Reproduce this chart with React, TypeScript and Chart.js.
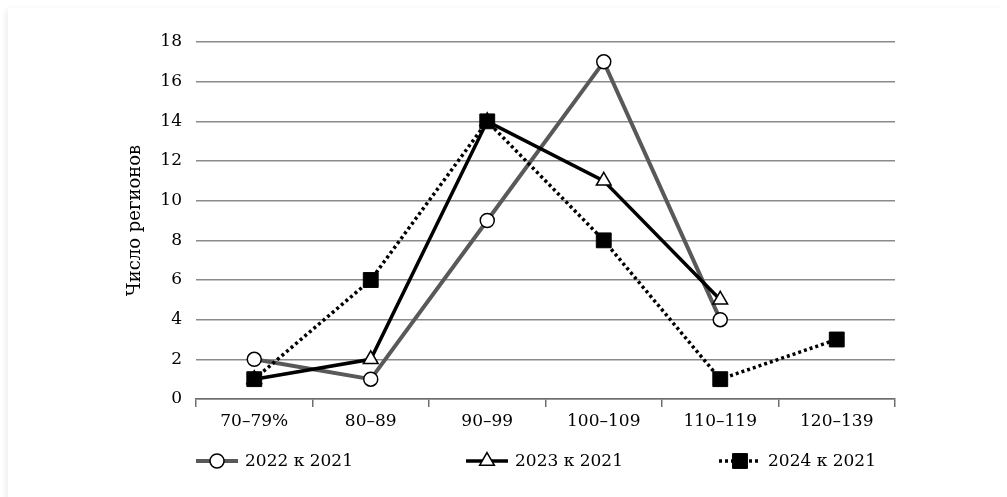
import React, { useEffect, useRef } from 'react';
import { Chart, registerables } from 'chart.js';
import * as helpers from 'chart.js/helpers';

Chart.register(...registerables);

const categories = ['70–79%', '80–89', '90–99', '100–109', '110–119', '120–139'];
const series2022 = [2, 1, 9, 17, 4, null];
const series2023 = [1, 2, 14, 11, 5, null];
const series2024 = [1, 6, 14, 8, 1, 3];
const seriesLabels = ['2022 к 2021', '2023 к 2021', '2024 к 2021'];
const yAxisTitle = 'Число регионов';
const yMin = 0;
const yMax = 18;
const yStep = 2;

const FONT = '"DejaVu Serif", serif';

const legendPlugin = {
  id: 'customLegend',
  afterDraw(chart: any) {
    const ctx = chart.ctx;
    const left = chart.chartArea.left;
    const y = 461;
    const offsets = [0, 270, 523];
    chart.data.datasets.forEach((ds: any, i: number) => {
      const x = left + offsets[i];
      ctx.save();
      ctx.strokeStyle = ds.borderColor;
      ctx.lineWidth = ds.borderWidth;
      ctx.setLineDash(ds.borderDash || []);
      ctx.lineCap = 'butt';
      ctx.beginPath();
      ctx.moveTo(x, y);
      ctx.lineTo(x + 42, y);
      ctx.stroke();
      ctx.setLineDash([]);
      ctx.fillStyle = ds.pointBackgroundColor;
      ctx.strokeStyle = ds.pointBorderColor;
      ctx.lineWidth = ds.pointBorderWidth;
      helpers.drawPoint(ctx, { pointStyle: ds.pointStyle, radius: ds.pointRadius, borderWidth: ds.pointBorderWidth, rotation: 0 } as any, x + 21, y);
      ctx.fillStyle = '#000';
      ctx.font = `17px ${FONT}`;
      ctx.textBaseline = 'middle';
      ctx.textAlign = 'left';
      ctx.fillText(ds.label, x + 49, y + 1);
      ctx.restore();
    });
  },
};

export default function App() {
  const ref = useRef<HTMLCanvasElement | null>(null);
  useEffect(() => {
    if (!ref.current) return;
    const chart = new Chart(ref.current, {
      type: 'line',
      data: {
        labels: categories,
        datasets: [
          {
            label: seriesLabels[0],
            data: series2022,
            borderColor: '#595959',
            borderWidth: 4,
            pointStyle: 'circle',
            pointRadius: 7,
            pointBackgroundColor: '#ffffff',
            pointBorderColor: '#000000',
            pointBorderWidth: 1.5,
            order: 2,
            tension: 0,
          },
          {
            label: seriesLabels[1],
            data: series2023,
            borderColor: '#000000',
            borderWidth: 3.5,
            pointStyle: 'triangle',
            pointRadius: 8.5,
            pointBackgroundColor: '#ffffff',
            pointBorderColor: '#000000',
            pointBorderWidth: 1.5,
            order: 1,
            tension: 0,
          },
          {
            label: seriesLabels[2],
            data: series2024,
            borderColor: '#000000',
            borderWidth: 3.5,
            borderDash: [3, 3],
            pointStyle: 'rect',
            pointRadius: 10.5,
            pointBackgroundColor: '#000000',
            pointBorderColor: '#000000',
            pointBorderWidth: 1,
            order: 0,
            tension: 0,
          },
        ] as any,
      },
      options: {
        animation: false,
        responsive: false,
        maintainAspectRatio: false,
        devicePixelRatio: 1,
        layout: { padding: { left: 125, right: 112, top: 42, bottom: 48 } },
        plugins: {
          legend: { display: false },
          tooltip: { enabled: false },
        },
        scales: {
          x: {
            offset: true,
            grid: {
              offset: true,
              drawOnChartArea: false,
              drawTicks: true,
              tickLength: 8,
              tickColor: '#6e6e6e',
              lineWidth: 1.5,
            },
            border: { display: true, color: '#6e6e6e', width: 1.5 },
            ticks: {
              color: '#000',
              font: { family: FONT, size: 17 },
              padding: 4,
              maxRotation: 0,
              autoSkip: false,
            },
            afterFit: (scale: any) => {
              scale.height = 50;
            },
          },
          y: {
            min: yMin,
            max: yMax,
            grid: {
              color: '#8a8a8a',
              lineWidth: 1.5,
              drawTicks: false,
            },
            border: { display: false },
            ticks: {
              stepSize: yStep,
              color: '#000',
              font: { family: FONT, size: 17 },
              padding: 14,
            },
            title: {
              display: true,
              text: yAxisTitle,
              color: '#000',
              font: { family: FONT, size: 18, lineHeight: 1.2 },
              padding: 0,
            },
            afterFit: (scale: any) => {
              scale.width = 71;
            },
          },
        },
      },
      plugins: [legendPlugin],
    });
    return () => chart.destroy();
  }, []);
  return (
    <div style={{ position: 'absolute', left: 0, top: 0, width: 1007, height: 497, background: '#fff', overflow: 'hidden' }}>
      <div style={{ position: 'absolute', left: 8, top: 8, width: 1000, height: 500, boxShadow: '-4px 0 6px -2px rgba(0,0,0,0.08)' }} />
      <canvas ref={ref} width={1007} height={497} style={{ position: 'absolute', left: 0, top: 0, width: 1007, height: 497 }} />
    </div>
  );
}
